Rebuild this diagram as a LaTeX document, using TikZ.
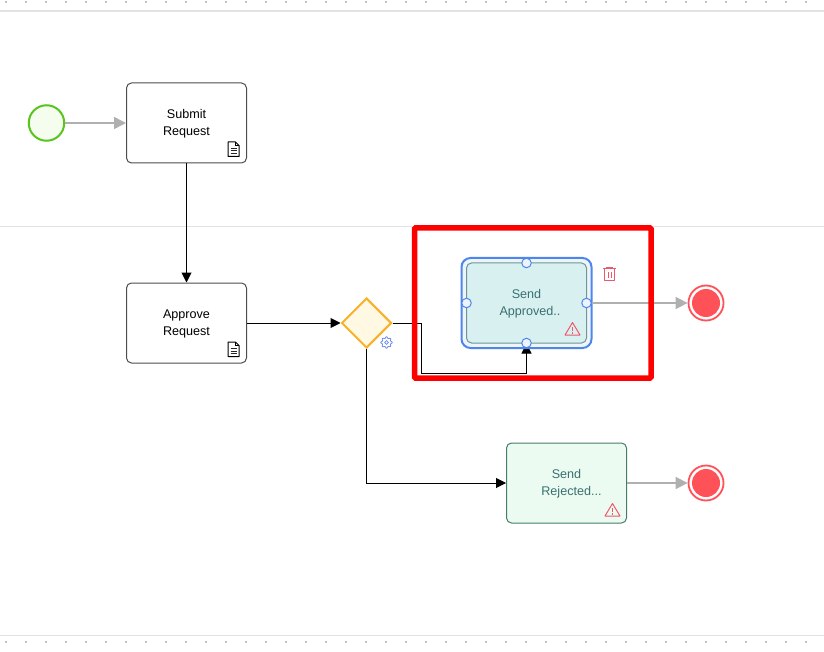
\documentclass[tikz,border=0pt]{standalone}
\usepackage{fontspec}
\setmainfont{Liberation Sans}
\usetikzlibrary{arrows.meta,shapes.geometric}
\pgfdeclarelayer{under}
\pgfsetlayers{under,main}
\newcommand{\lowline}[1]{\raisebox{-.6pt}[\height][\depth]{#1}}
\definecolor{laneline}{HTML}{E2E2E2}
\definecolor{griddot}{HTML}{C4C4C4}
\definecolor{flowgray}{HTML}{B0B0B0}
\definecolor{tasktext}{HTML}{3A7070}
\definecolor{alert}{HTML}{F0576A}
\definecolor{endred}{HTML}{FF5258}
\definecolor{selblue}{HTML}{4F86EC}
\definecolor{selfill}{HTML}{EEF5FA}
\definecolor{startgreen}{HTML}{5AC41E}
\definecolor{startfill}{HTML}{F5FEEE}
\definecolor{gworange}{HTML}{FAB028}
\definecolor{gwfill}{HTML}{FFF8E3}
\definecolor{apprline}{HTML}{6E9696}
\definecolor{apprfill}{HTML}{D8F0F0}
\definecolor{rejline}{HTML}{467D69}
\definecolor{rejfill}{HTML}{EBFBF2}
\definecolor{plainline}{HTML}{4D4D4D}
\definecolor{gearblue}{HTML}{6E8CF0}
\definecolor{handlefill}{HTML}{EDF4FF}
\tikzset{
  x=1pt,y=-1pt,
  taskbox/.style={draw=#1,rectangle,rounded corners=5pt,line width=1pt,minimum width=120pt,minimum height=80pt,inner sep=0pt,align=center,font=\fontsize{12.6}{17}\selectfont},
  grayflow/.style={draw=flowgray,line width=1.6pt,-{Triangle[length=12pt,width=12pt,fill=flowgray]}},
  blackflow/.style={draw=black,line width=1pt,-{Triangle[length=10pt,width=10pt,fill=black]}},
  handle/.style={circle,draw=selblue,fill=handlefill,line width=1pt,minimum size=9.5pt,inner sep=0pt},
  endouter/.style={circle,draw=endred,fill=white,line width=1.8pt,minimum size=35pt,inner sep=0pt},
  endinner/.style={circle,fill=endred,minimum size=28pt,inner sep=0pt},
  docicon/.pic={
    \draw[line width=1pt,black,line join=round] (-5.5,-7.5) -- (2,-7.5) -- (5.5,-4) -- (5.5,7) -- (-5.5,7) -- cycle;
    \draw[line width=.8pt,black] (2,-7.5) -- (2,-4) -- (5.5,-4);
    \foreach \yy in {-1,1.5,4}{\draw[line width=1pt,black!85] (-3,\yy) -- (3,\yy);}
  },
  warnicon/.pic={
    \draw[alert,line width=1pt,line join=round] (0,-6.5) -- (7.5,6) -- (-7.5,6) -- cycle;
    \draw[alert,line width=.9pt] (0,-2) -- (0,2.2) (0,3.4) -- (0,4.5);
  },
}
\begin{document}
\begin{tikzpicture}
\useasboundingbox (0,0) rectangle (824,652);
\begin{pgfonlayer}{under}
\fill[white] (0,0) rectangle (824,652);
\end{pgfonlayer}
% canvas frame
\foreach \xx in {6,26,...,806}{
  \fill[griddot] (\xx-1,1) rectangle (\xx+1,3);
  \fill[griddot] (\xx-1,641) rectangle (\xx+1,643);
}
\draw[laneline,line width=1.5pt] (0,11) -- (824,11);
\draw[laneline,line width=1.2pt] (0,226.5) -- (824,226.5);
\draw[laneline,line width=1.5pt] (0,635.5) -- (824,635.5);

% nodes
\node[circle,draw=startgreen,fill=startfill,line width=2pt,minimum size=35.5pt,inner sep=0pt] (start) at (46.5,123) {};
\node[taskbox=plainline,fill=white] (submit) at (186.5,123) {\lowline{Submit}\\\lowline{Request}};
\node[taskbox=plainline,fill=white] (approve) at (186.5,323) {\lowline{Approve}\\\lowline{Request}};
\node[diamond,aspect=1,draw=gworange,fill=gwfill,line width=2pt,minimum size=50pt,inner sep=0pt] (gw) at (366.5,323) {};
\coordinate (bend) at (421.5,373.5);

\node[draw=selblue,fill=selfill,rectangle,rounded corners=9pt,line width=2pt,minimum width=130pt,minimum height=90pt,inner sep=0pt] (sel) at (526.5,303) {};

\node[taskbox=apprline,fill=apprfill,text=tasktext] (approved) at (526.5,303) {\lowline{Send}\\\hspace*{7pt}\lowline{Approved..}};
\node[taskbox=rejline,fill=rejfill,text=tasktext] (rejected) at (566.5,483) {\lowline{Send}\\\hspace*{10pt}\lowline{Rejected...}};

\node[endouter] (endA) at (706,303) {};
\node[endinner] at (endA) {};
\node[endouter] (endB) at (706,483) {};
\node[endinner] at (endB) {};

% handles
\node[handle] (ht) at (526.5,263) {};
\node[handle] (hl) at (466.5,303) {};
\node[handle] (hr) at (586.5,303) {};
\node[handle] (hb) at (526.5,343) {};

% connectors
\draw[grayflow] (start.east) -- (submit.west);
\draw[blackflow] (submit.south) -- (approve.north);
\draw[blackflow] (approve.east) -- (gw.west);
\draw[grayflow] (hr.east) -- (endA.west);
\draw[grayflow] (rejected.east) -- (endB.west);
\draw[blackflow] (gw.south) |- (rejected.west);
\draw[black,line width=1pt] (gw.east) -| (bend);
\begin{pgfonlayer}{under}
\draw[blackflow] (bend) -| (approved.south);
\end{pgfonlayer}

% red highlight
\draw[red,line width=5.5pt,rounded corners=1pt] (414.5,228) rectangle (651,378);

% icons
\pic at (233.5,149.5) {docicon};
\pic at (233.5,349.5) {docicon};
\pic at (572.5,329) {warnicon};
\pic at (612.5,510) {warnicon};
% trash
\draw[alert,line width=1pt] (603,269) -- (616,269) (606.5,269) -- (606.5,267.5) -- (612.5,267.5) -- (612.5,269);
\draw[alert,line width=1pt,line join=round] (604.5,269) -- (604.5,280.5) -- (614.5,280.5) -- (614.5,269);
\draw[alert,line width=.8pt] (608,272) -- (608,278) (611,272) -- (611,278);
% gear
\draw[gearblue,line width=.8pt] plot[domain=0:360,samples=73] ({386.5+(5+.7*cos(8*\x))*cos(\x)},{342.5+(5+.7*cos(8*\x))*sin(\x)}) -- cycle;
\draw[gearblue,line width=.8pt] (386.5,342.5) circle (1.9);
\end{tikzpicture}
\end{document}
